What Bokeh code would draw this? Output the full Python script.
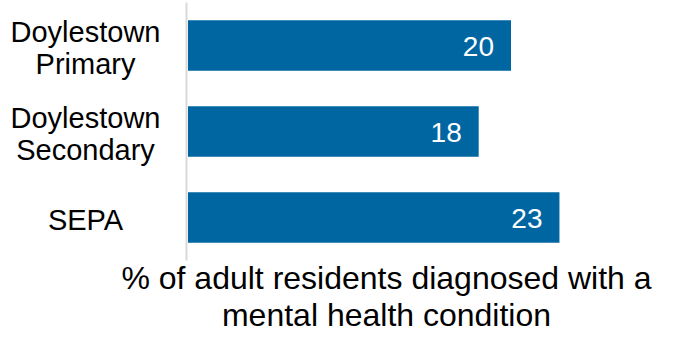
from bokeh.plotting import figure
from bokeh.models import ColumnDataSource, Range1d, Label
from bokeh.core.properties import value
from bokeh.embed import file_html
from bokeh.resources import INLINE

# ---- data ----
categories = ["Doylestown\nPrimary", "Doylestown\nSecondary", "SEPA"]
values = [20, 18, 23]
value_labels = ["20", "18", "23"]
title_text = "% of adult residents diagnosed with a\nmental health condition"

# ---- layout constants (pixels) ----
W, H = 666, 334
PX_PER_UNIT = 16.15      # horizontal px per value unit
ZERO_PX = 187.5          # x pixel of value 0 in figure
BAND_PX = 86.0           # vertical px per category band
TOP_CENTER_PX = 45.0     # y pixel (from top) of first category centre
FONT = "Liberation Sans"
BAR_COLOR = "#0066A2"

n = len(categories)
ypos = [n - 1 - i for i in range(n)]  # first category at top


def xdata(px):
    return (px - ZERO_PX) / PX_PER_UNIT


def ydata(px):
    return (n - 1) - (px - TOP_CENTER_PX) / BAND_PX


p = figure(width=W, height=H, output_backend="svg", toolbar_location=None,
           x_range=Range1d(xdata(0), xdata(W)),
           y_range=Range1d(ydata(H), ydata(0)),
           min_border=0, min_border_left=0, min_border_right=0,
           min_border_top=0, min_border_bottom=0)
p.axis.visible = False
p.grid.visible = False
p.outline_line_color = None
p.background_fill_color = "white"
p.border_fill_color = "white"

src = ColumnDataSource(dict(cat=categories, y=ypos, v=values, vl=value_labels,
                            lx=[xdata(85)] * n))

# axis baseline
p.segment(x0=xdata(ZERO_PX - 1.5), x1=xdata(ZERO_PX - 1.5), y0=-0.5, y1=n - 0.5,
          line_color="#d9d9d9", line_width=2)

p.hbar(y="y", left=0, right="v", height=0.59, source=src,
       fill_color=BAR_COLOR, line_color=None)

p.text(x="v", y="y", text="vl", source=src, x_offset=-17, y_offset=1,
       text_align="right", text_baseline="middle", text_color="white",
       text_font=value(FONT), text_font_size="28px")

p.text(x="lx", y="y", text="cat", source=src, y_offset=2,
       text_align="center", text_baseline="middle", text_color="#000000",
       text_font=value(FONT), text_font_size="29px", text_line_height=1.0)

p.add_layout(Label(x=xdata(386), y=ydata(296), text=title_text,
                   text_align="center", text_baseline="middle",
                   text_font=FONT, text_font_size="32px", text_color="#000000",
                   text_line_height=1.05))

open("out.html", "w").write(file_html(p, INLINE))
